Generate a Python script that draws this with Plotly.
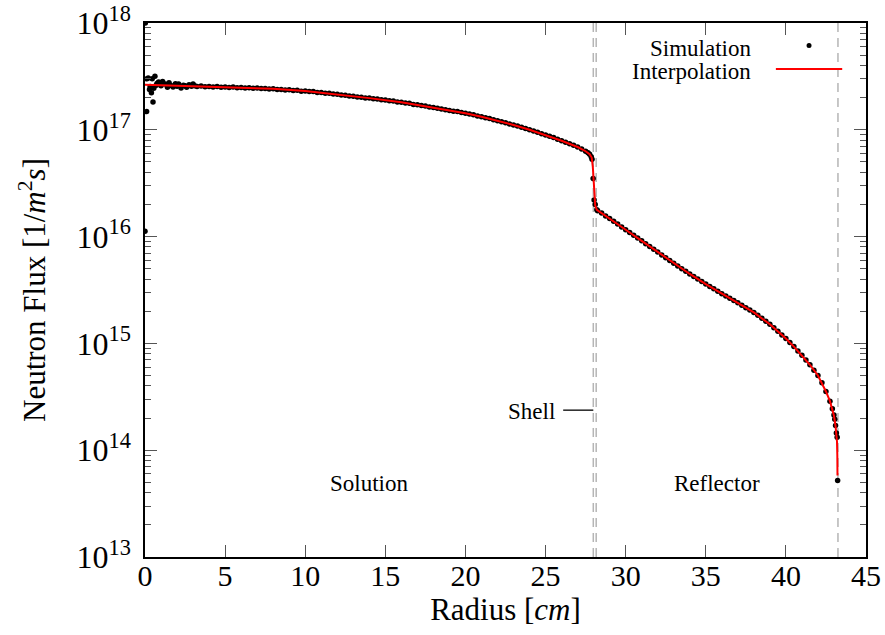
import plotly.graph_objects as go

# ---------------- data ----------------
# Simulation points: radius [cm] and neutron flux in units of 1e15 1/(m^2 s)
radius_sim = [
    0.0, 0.02, 0.1, 0.12, 0.2, 0.28, 0.32, 0.4, 0.45, 0.5, 0.55, 0.62, 0.7, 0.75, 0.85,
    1.0, 1.1, 1.25, 1.4, 1.5, 1.6, 1.75, 1.9, 2.0, 2.1, 2.25, 2.4, 2.5, 2.6, 2.75, 2.9,
    3.0, 3.1, 3.25, 3.5, 3.75, 4.0, 4.25, 4.5, 4.75, 5.0, 5.25, 5.5, 5.75, 6.0, 6.25,
    6.5, 6.75, 7.0, 7.25, 7.5, 7.75, 8.0, 8.25, 8.5, 8.75, 9.0, 9.25, 9.5, 9.75, 10.0,
    10.25, 10.5, 10.75, 11.0, 11.25, 11.5, 11.75, 12.0, 12.25, 12.5, 12.75, 13.0, 13.25,
    13.5, 13.75, 14.0, 14.25, 14.5, 14.75, 15.0, 15.25, 15.5, 15.75, 16.0, 16.25, 16.5,
    16.75, 17.0, 17.25, 17.5, 17.75, 18.0, 18.25, 18.5, 18.75, 19.0, 19.25, 19.5, 19.75,
    20.0, 20.25, 20.5, 20.75, 21.0, 21.25, 21.5, 21.75, 22.0, 22.25, 22.5, 22.75, 23.0,
    23.25, 23.5, 23.75, 24.0, 24.25, 24.5, 24.75, 25.0, 25.25, 25.5, 25.75, 26.0, 26.25,
    26.5, 26.75, 27.0, 27.25, 27.5, 27.65, 27.75, 27.85, 27.9, 27.97, 28.03, 28.1, 28.2,
    28.25, 28.5, 28.75, 29.0, 29.25, 29.5, 29.75, 30.0, 30.25, 30.5, 30.75, 31.0, 31.25,
    31.5, 31.75, 32.0, 32.25, 32.5, 32.75, 33.0, 33.25, 33.5, 33.75, 34.0, 34.25, 34.5,
    34.75, 35.0, 35.25, 35.5, 35.75, 36.0, 36.25, 36.5, 36.75, 37.0, 37.25, 37.5, 37.75,
    38.0, 38.25, 38.5, 38.75, 39.0, 39.25, 39.5, 39.75, 40.0, 40.25, 40.5, 40.75, 41.0,
    41.25, 41.5, 41.75, 42.0, 42.25, 42.5, 42.75, 42.9, 43.0, 43.05, 43.1, 43.15, 43.2,
    43.23,
]
flux_sim_1e15 = [
    11.2, 1000, 148, 300, 305, 238, 255, 222, 300, 182, 245, 318, 262, 272, 280,
    258, 284, 268, 250, 276, 262, 252, 270, 256, 268, 246, 262, 258, 250, 264, 256,
    268, 258, 254, 257, 253, 255, 251, 254, 250, 252, 249, 251, 248, 249, 246,
    248, 245, 246, 243, 244, 241, 242, 239, 239, 236, 237, 233, 234, 230, 231,
    228, 228, 224, 224, 220, 220, 216, 215, 212, 211, 207, 206, 203,
    202, 199, 198, 195, 194, 191, 190, 187, 186, 182, 181, 178, 177,
    173, 172, 169, 167, 163.5, 162, 159, 157, 154, 152, 149.5, 148, 145,
    143, 140.5, 138, 135, 132.5, 130, 127.5, 124, 121.5, 119, 116.5, 113.5, 111,
    108.5, 105.5, 103, 100, 97.5, 95, 92, 89.5, 87, 84.5, 81.5, 79, 76.5,
    74, 71.5, 69, 66, 63, 61, 59, 56, 53, 35, 22, 20, 17.8,
    17.5, 16.6, 15.6, 14.8, 13.9, 13.1, 12.3, 11.6, 10.9, 10.3, 9.69, 9.12, 8.59,
    8.09, 7.60, 7.16, 6.74, 6.35, 5.97, 5.62, 5.31, 5.01, 4.73, 4.47, 4.23, 4.01,
    3.79, 3.59, 3.41, 3.24, 3.08, 2.92, 2.78, 2.65, 2.52, 2.40, 2.28, 2.16, 2.06,
    1.95, 1.83, 1.72, 1.61, 1.51, 1.40, 1.30, 1.20, 1.11, 1.02, 0.933, 0.851, 0.776,
    0.700, 0.631, 0.562, 0.501, 0.427, 0.355, 0.288, 0.245, 0.214, 0.195, 0.170, 0.145, 0.132,
    0.052,
]

# Interpolation curve: radius [cm] and flux in units of 1e15 1/(m^2 s)
radius_fit = [
    0, 2, 4, 6, 8, 10, 12, 14, 16, 18, 20, 21, 22, 23, 24, 25, 26, 27, 27.5, 27.75,
    27.88, 27.95, 28.0, 28.05, 28.1, 28.2, 29, 30, 31, 32, 33, 34, 35, 36, 37, 38, 39,
    39.5, 40, 40.5, 41, 41.5, 42, 42.25, 42.5, 42.75, 43.0, 43.1, 43.15, 43.19, 43.21, 43.22,
]
flux_fit_1e15 = [
    264, 259, 254, 249, 242, 231, 215, 198, 181, 162, 143, 132.5, 121.5, 111, 100, 89.5,
    79, 69, 63, 59, 55, 45, 32, 23, 19.5, 17.8, 14.8, 11.6, 9.12, 7.16, 5.62, 4.47, 3.59,
    2.92, 2.40, 1.95, 1.51, 1.30, 1.11, 0.933, 0.776, 0.631, 0.501, 0.427, 0.355, 0.288,
    0.21, 0.168, 0.145, 0.12, 0.09, 0.058,
]

FLUX_UNIT = 1e15
region_boundaries = [27.98, 28.16, 43.25]   # cm
x_tick_values = [0, 5, 10, 15, 20, 25, 30, 35, 40, 45]
y_tick_exponents = [13, 14, 15, 16, 17, 18]
y_minor_mantissas = [2, 3, 4, 5, 6, 7, 8, 9]

FONT = "Liberation Serif, DejaVu Serif, serif"
TXT = dict(size=23, family=FONT, color="black")

fig = go.Figure()

fig.add_trace(go.Scatter(
    x=radius_sim, y=[v * FLUX_UNIT for v in flux_sim_1e15],
    mode="markers", name="Simulation",
    marker=dict(color="black", size=5.5, line=dict(width=0)),
))
fig.add_trace(go.Scatter(
    x=radius_fit, y=[v * FLUX_UNIT for v in flux_fit_1e15],
    mode="lines", name="Interpolation",
    line=dict(color="#ff0000", width=2),
))

for b in region_boundaries:
    fig.add_shape(type="line", xref="x", yref="paper", x0=b, x1=b, y0=0, y1=1,
                  line=dict(color="#b5b5b5", width=1.5, dash="9px,6px"), layer="below")

# region labels
fig.add_annotation(x=13.98, y=0.137, xref="x", yref="paper", text="Solution",
                   yanchor="middle", showarrow=False, font=TXT)
fig.add_annotation(x=35.7, y=0.137, xref="x", yref="paper", text="Reflector",
                   yanchor="middle", showarrow=False, font=TXT)
fig.add_annotation(x=25.7, y=0.272, xref="x", yref="paper", text="Shell", xanchor="right",
                   yanchor="middle", showarrow=False, font=TXT)
fig.add_shape(type="line", xref="x", yref="paper", x0=26.1, x1=27.98, y0=0.275, y1=0.275,
              line=dict(color="black", width=1.3))

# key (text left of the sample, gnuplot style)
fig.add_annotation(x=0.843, y=0.953, xref="paper", yref="paper", text="Simulation",
                   xanchor="right", yanchor="middle", showarrow=False, font=TXT)
fig.add_annotation(x=0.843, y=0.910, xref="paper", yref="paper", text="Interpolation",
                   xanchor="right", yanchor="middle", showarrow=False, font=TXT)
fig.add_shape(type="circle", xref="paper", yref="paper", xsizemode="pixel", ysizemode="pixel",
              xanchor=0.921, yanchor=0.958, x0=-2.5, x1=2.5, y0=-2.5, y1=2.5,
              fillcolor="black", line=dict(width=0))
fig.add_shape(type="line", xref="paper", yref="paper", x0=0.875, x1=0.967, y0=0.914, y1=0.914,
              line=dict(color="#ff0000", width=2))

fig.update_layout(
    width=885, height=635,
    margin=dict(l=145, r=19, t=23, b=78),
    paper_bgcolor="white", plot_bgcolor="white",
    showlegend=False,
    font=dict(family=FONT, color="black"),
)

fig.update_xaxes(
    range=[0, 45], tickmode="array", tickvals=x_tick_values,
    ticks="inside", ticklen=12, tickwidth=1.2, tickcolor="#555555",
    showline=True, linecolor="black", linewidth=1.5, mirror="ticks",
    showgrid=False, zeroline=False, automargin=False,
    tickfont=dict(size=30, family=FONT, color="black"),
    ticklabelstandoff=-9,
    title=dict(text="Radius [<i>cm</i>]", font=dict(size=31, family=FONT, color="black"), standoff=0),
)
fig.update_yaxes(
    type="log", range=[13, 18],
    tickmode="array",
    tickvals=[10.0 ** e for e in y_tick_exponents],
    ticktext=[f"10<sup>{e}</sup>" for e in y_tick_exponents],
    ticks="inside", ticklen=12, tickwidth=1.2, tickcolor="#555555",
    minor=dict(ticks="inside", ticklen=6, tickwidth=1, tickcolor="#555555", showgrid=False,
               tickmode="array",
               tickvals=[m * 10.0 ** e for e in y_tick_exponents[:-1] for m in y_minor_mantissas]),
    showline=True, linecolor="black", linewidth=1.5, mirror="ticks",
    showgrid=False, zeroline=False, automargin=False,
    tickfont=dict(size=32, family=FONT, color="black"),
    ticklabelstandoff=6,
    title=dict(text="Neutron Flux [1/<i>m</i><sup>2</sup><i>s</i>]",
               font=dict(size=31, family=FONT, color="black"), standoff=22),
)

fig.write_html("out.html")
